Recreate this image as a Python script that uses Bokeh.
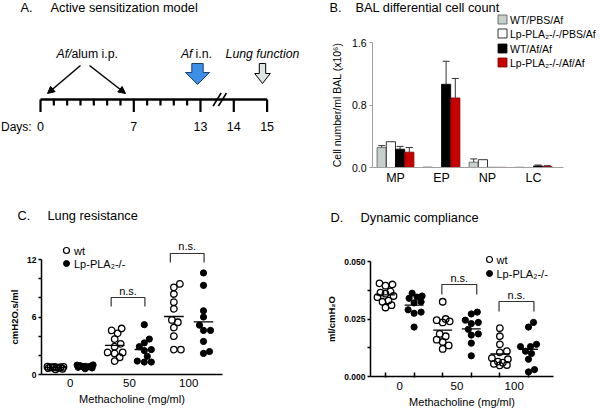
import math
from bokeh.plotting import figure
from bokeh.layouts import column, row
from bokeh.models import (Range1d, FixedTicker, Arrow, NormalHead, Whisker,
                          TeeHead, ColumnDataSource, NumeralTickFormatter)
from bokeh.core.properties import value
from bokeh.embed import file_html
from bokeh.resources import INLINE

FONT = "Liberation Sans"
F = value(FONT)

# ---------------- data ----------------
# Panel A: sensitization schedule (schematic, not to scale)
tick_days = ["0", "7", "13", "14", "15"]
tick_slots = [0, 7, 12, 14.5, 17]
minor_slots = [1, 2, 3, 4, 5, 6, 8, 9, 10, 11]

# Panel B: BAL differential cell count (x10^6 / ml)
cell_types = ["MP", "EP", "NP", "LC"]
group_labels = ["WT/PBS/Af", "Lp-PLA\u2082-/-/PBS/Af", "WT/Af/Af", "Lp-PLA\u2082-/-/Af/Af"]
wt_pbs = [0.255, 0.005, 0.068, 0.003]
ko_pbs = [0.330, 0.000, 0.100, 0.000]
wt_af = [0.235, 1.065, 0.002, 0.020]
ko_af = [0.196, 0.890, 0.002, 0.015]
wt_pbs_err = [0.025, 0.0, 0.042, 0.0]
ko_pbs_err = [0.0, 0.0, 0.0, 0.0]
wt_af_err = [0.035, 0.295, 0.0, 0.012]
ko_af_err = [0.060, 0.250, 0.0, 0.008]

# Panel C: lung resistance (cmH2O.s/ml)
doses = ["0", "50", "100"]
res_wt_0 = [0.82, 0.80, 0.80, 0.78, 0.76, 0.75, 0.73, 0.70, 0.66, 0.60, 0.55]
res_ko_0 = [1.00, 0.98, 0.92, 0.88, 0.85, 0.83, 0.80, 0.75, 0.68, 0.60]
res_wt_50 = [4.8, 4.6, 4.3, 3.7, 3.2, 2.9, 2.3, 2.2, 2.3, 1.8, 1.4]
res_ko_50 = [5.2, 3.7, 3.3, 2.9, 2.6, 2.5, 1.9, 1.4, 1.3, 1.3]
res_wt_100 = [9.45, 9.1, 8.4, 7.55, 6.85, 5.7, 5.45, 4.9, 4.0, 2.6, 2.6]
res_ko_100 = [10.6, 9.3, 6.65, 6.0, 5.15, 4.6, 4.6, 3.45, 2.4, 2.2]

# Panel D: dynamic compliance (ml/cmH2O)
cmp_wt_0 = [0.0405, 0.0395, 0.0400, 0.0370, 0.0365, 0.0360, 0.0350, 0.0345, 0.0330, 0.0325, 0.0310, 0.0300]
cmp_ko_0 = [0.0362, 0.0350, 0.0345, 0.0340, 0.0320, 0.0325, 0.0290, 0.0280, 0.0275, 0.0215]
cmp_wt_50 = [0.0325, 0.0250, 0.0245, 0.0240, 0.0235, 0.0185, 0.0175, 0.0160, 0.0150, 0.0135, 0.0120]
cmp_ko_50 = [0.0280, 0.0272, 0.0245, 0.0235, 0.0230, 0.0205, 0.0185, 0.0180, 0.0145, 0.0090]
cmp_wt_100 = [0.0210, 0.0175, 0.0140, 0.0110, 0.0105, 0.0080, 0.0075, 0.0065, 0.0060, 0.0055, 0.0050, 0.0048]
cmp_ko_100 = [0.0235, 0.0215, 0.0140, 0.0130, 0.0130, 0.0110, 0.0100, 0.0075, 0.0030, 0.0020]


class Map:
    """Page-pixel layout -> data coordinates for one panel (frame = whole figure)."""
    def __init__(self, left, top, w, h, xpage0, xval0, ppu_x, ypage0, yval0, ppu_y):
        self.left, self.top, self.w, self.h = left, top, w, h
        self.xp0, self.xv0, self.px = xpage0, xval0, ppu_x
        self.yp0, self.yv0, self.py = ypage0, yval0, ppu_y

    def fx(self, p):
        return self.xv0 + (p - self.xp0) / self.px

    def fy(self, p):
        return self.yv0 + (self.yp0 - p) / self.py

    def ranges(self):
        xr = Range1d(self.fx(self.left), self.fx(self.left + self.w))
        yr = Range1d(self.fy(self.top + self.h), self.fy(self.top))
        return xr, yr


def base_fig(m):
    xr, yr = m.ranges()
    p = figure(width=m.w, height=m.h, x_range=xr, y_range=yr, output_backend="svg",
               toolbar_location=None, min_border=0)
    p.outline_line_color = None
    p.grid.grid_line_color = None
    return p


def texts(p, xs, ys, t, size="12.8px", align="left", baseline="middle", style="normal"):
    p.text(x=xs, y=ys, text=t, text_font=F, text_font_size=size, text_align=align,
           text_baseline=baseline, text_font_style=style)


# ---------------- Panel A ----------------
PX_SLOT = 13.33
pA = figure(width=300, height=196, x_range=Range1d(-40 / PX_SLOT, 260 / PX_SLOT),
            y_range=Range1d(196, 0), output_backend="svg", toolbar_location=None,
            min_border=0, x_axis_location=None, y_axis_location=None)
pA.outline_line_color = None
pA.grid.grid_line_color = None


def sx(page_x):
    return (page_x - 40) / PX_SLOT


texts(pA, [sx(20), sx(50)], [7, 7], ["A.", "Active sensitization model"])
TL_Y = 99
pA.line(x=[tick_slots[0], tick_slots[-1]], y=[TL_Y, TL_Y], line_width=2.4, line_color="black")
pA.segment(x0=tick_slots, y0=[TL_Y] * len(tick_slots), x1=tick_slots,
           y1=[TL_Y + 12.5] * len(tick_slots), line_width=2.2, line_color="black")
pA.segment(x0=minor_slots, y0=[TL_Y] * len(minor_slots), x1=minor_slots,
           y1=[TL_Y + 6] * len(minor_slots), line_width=2.2, line_color="black")
brk = (tick_slots[2] + tick_slots[3]) / 2 + 0.2
for k in (-1, 1):
    xm = brk + k * 0.2
    pA.segment(x0=[xm - 0.3], y0=[TL_Y + 6.5], x1=[xm + 0.3], y1=[TL_Y - 6.5],
               line_width=1.6, line_color="black")
texts(pA, tick_slots, [126] * len(tick_slots), tick_days, size="12.5px", align="center")
texts(pA, [sx(0.5)], [126], ["Days:"], size="12px")
texts(pA, [sx(71)], [53], ["Af/"], size="12.3px", align="right", style="italic")
texts(pA, [sx(71)], [53], ["alum i.p."], size="12.3px")
texts(pA, [sx(192)], [53], ["Af"], size="12.3px", align="right", style="italic")
texts(pA, [sx(195)], [53], ["i.n."], size="12.3px")
texts(pA, [sx(262)], [53], ["Lung function"], size="12.3px", align="center", style="italic")
for (x0, x1) in ((80, 47), (89, 125)):
    pA.add_layout(Arrow(x_start=sx(x0), y_start=65, x_end=sx(x1), y_end=93,
                        line_width=1.5, line_color="black",
                        end=NormalHead(size=7, fill_color="black", line_color="black")))


def block_arrow(xc_px, y0, yh, ytip, shw, hhw):
    xs = [xc_px - shw, xc_px + shw, xc_px + shw, xc_px + hhw, xc_px, xc_px - hhw, xc_px - shw]
    ys = [y0, y0, yh, yh, ytip, yh, yh]
    return [sx(v) for v in xs], ys


bx, by = block_arrow(197, 63, 72, 84, 5.7, 12)
pA.patch(bx, by, fill_color="#3d8ee6", line_color="#1f3f6e", line_width=1)
gx, gy = block_arrow(262, 63, 73, 83, 3.2, 7.8)
pA.patch(gx, gy, fill_color="#dfe5e2", line_color="black", line_width=1)

# ---------------- Panel B ----------------
mB = Map(300, 0, 300, 196, 395, 0.0, 46.0, 167, 0.0, 125 / 1.6)
pB = base_fig(mB)
B_X0 = mB.fx(372)
B_X1 = mB.fx(563)
series = [wt_pbs, ko_pbs, wt_af, ko_af]
errs = [wt_pbs_err, ko_pbs_err, wt_af_err, ko_af_err]
fills = ["#c6cfcb", "white", "black", "#c80000"]
lines = ["#555555", "black", "black", "#7a0000"]
offsets = [-0.3, -0.1, 0.1, 0.3]
for vals, er, fc, lc, off in zip(series, errs, fills, lines, offsets):
    xs = [i + off for i in range(len(cell_types))]
    pB.vbar(x=xs, top=vals, width=0.2, fill_color=fc, line_color=lc, line_width=0.8)
    keep = [i for i in range(len(vals)) if er[i] > 0]
    if keep:
        src = ColumnDataSource(dict(x=[xs[i] for i in keep], lo=[vals[i] for i in keep],
                                    hi=[vals[i] + er[i] for i in keep]))
        pB.add_layout(Whisker(source=src, base="x", lower="lo", upper="hi",
                              line_color="#333333", line_width=1, lower_head=None,
                              upper_head=TeeHead(size=7, line_color="#333333", line_width=1)))
pB.xaxis.fixed_location = 0
pB.yaxis.fixed_location = B_X0
pB.xaxis.bounds = (B_X0, B_X1)
pB.yaxis.bounds = (0, 1.6)
pB.xaxis.ticker = FixedTicker(ticks=list(range(len(cell_types))), minor_ticks=[])
pB.xaxis.major_label_overrides = {i: c for i, c in enumerate(cell_types)}
pB.xaxis.major_tick_in = 0
pB.xaxis.major_tick_out = 0
pB.xaxis.major_label_text_font_size = "12.5px"
pB.xaxis.major_label_standoff = 3
pB.yaxis.ticker = FixedTicker(ticks=[0, 0.8, 1.6], minor_ticks=[])
pB.yaxis.formatter = NumeralTickFormatter(format="0.0")
pB.yaxis.major_tick_in = 0
pB.yaxis.major_tick_out = 3
pB.yaxis.major_label_text_font_size = "10.5px"
pB.yaxis.major_label_standoff = 3
pB.yaxis.axis_label = "Cell number/ml BAL (x10\u2076)"
pB.yaxis.axis_label_text_font_size = "10.5px"
pB.yaxis.axis_label_text_font_style = "normal"
pB.yaxis.axis_label_standoff = 6
for ax in (pB.xaxis, pB.yaxis):
    ax.axis_line_color = "#a0a0a0"
    ax.major_tick_line_color = "#a0a0a0"
    ax.major_label_text_font = FONT
    ax.axis_label_text_font = FONT
    ax.major_label_text_color = "black"
    ax.axis_label_text_color = "black"
leg_y = [mB.fy(py) for py in (19, 33, 48, 62)]
pB.scatter(x=[mB.fx(502)] * 4, y=leg_y, marker="square", size=9,
           fill_color=fills, line_color=lines, line_width=0.8)
texts(pB, [mB.fx(509.5)] * 4, leg_y, group_labels, size="10.5px")
texts(pB, [mB.fx(329), mB.fx(355)], [mB.fy(7)] * 2, ["B.", "BAL differential cell count"])


# ---------------- Panels C & D ----------------
def swarm(vals, ppu_y, ppu_x, diam=6.2, maxoff=8.0, step=1.0):
    order = sorted(range(len(vals)), key=lambda i: vals[i])
    cands = [0.0]
    k = 1
    while k * step <= maxoff + 1e-9:
        cands += [k * step, -k * step]
        k += 1
    placed = []
    offs = [0.0] * len(vals)
    for i in order:
        yi = vals[i] * ppu_y
        best, bestd = 0.0, -1.0
        for c in cands:
            md = min((math.hypot(c - px, yi - py) for px, py in placed), default=1e9)
            if md >= diam:
                best = c
                break
            if md > bestd:
                bestd, best = md, c
        placed.append((best, yi))
        offs[i] = best / ppu_x
    return offs


def dot_panel(m, groups, axis_x_page, axis_end_page, title_pages, title, title_y,
              yticks, yminor, ylabel, yfmt, xminor, brackets, pad, legend_pages):
    p = base_fig(m)
    x0, x1 = m.fx(axis_x_page), m.fx(axis_end_page)
    for col, vals in enumerate(groups, start=1):
        offs = swarm(vals, m.py, m.px)
        xs = [col + o for o in offs]
        if col % 2 == 1:
            p.scatter(x=xs, y=vals, size=6.5, fill_color=None, line_color="black", line_width=1.3)
        else:
            p.scatter(x=xs, y=vals, size=6.2, fill_color="black", line_color="black")
        mval = sum(vals) / len(vals)
        p.segment(x0=[col - 0.33], y0=[mval], x1=[col + 0.33], y1=[mval],
                  line_width=1.3, line_color="black")
    for (a, b, top_pg, leg_pg, txt_pg) in brackets:
        xa, xb = a + pad[0], b + pad[1]
        top, leg = m.fy(top_pg), m.fy(leg_pg)
        p.multi_line(xs=[[xa, xa, xb, xb]], ys=[[leg, top, top, leg]],
                     line_width=1.2, line_color="#333333")
        texts(p, [(xa + xb) / 2], [m.fy(txt_pg)], ["n.s."], size="11px", align="center")
    lx, ltx, ly_wt, ly_ko = legend_pages
    p.scatter(x=[m.fx(lx)], y=[m.fy(ly_wt)], size=6, fill_color=None,
              line_color="black", line_width=1.2)
    p.scatter(x=[m.fx(lx)], y=[m.fy(ly_ko)], size=6, fill_color="black", line_color="black")
    texts(p, [m.fx(ltx)] * 2, [m.fy(ly_wt), m.fy(ly_ko)], ["wt", "Lp-PLA\u2082-/-"], size="11px")
    texts(p, [m.fx(title_pages[0]), m.fx(title_pages[1])], [m.fy(title_y)] * 2, list(title))
    # axes
    p.yaxis.fixed_location = x0
    p.xaxis.fixed_location = 0
    p.xaxis.bounds = (x0, x1)
    p.yaxis.bounds = (yticks[0], yticks[-1])
    p.yaxis.ticker = FixedTicker(ticks=yticks, minor_ticks=yminor)
    if yfmt:
        p.yaxis.formatter = NumeralTickFormatter(format=yfmt)
    p.yaxis.major_tick_in = 0
    p.yaxis.minor_tick_in = 0
    p.yaxis.major_tick_out = 3
    p.yaxis.minor_tick_out = 3
    p.yaxis.major_label_standoff = 2
    p.yaxis.major_label_text_font_size = "8.5px"
    p.yaxis.major_label_text_font_style = "bold"
    p.yaxis.axis_label = ylabel
    p.yaxis.axis_label_text_font_size = "9.5px"
    p.yaxis.axis_label_text_font_style = "bold"
    p.yaxis.axis_label_standoff = 4
    p.xaxis.ticker = FixedTicker(ticks=[1.5, 3.5, 5.5], minor_ticks=xminor)
    p.xaxis.major_label_overrides = {1.5: doses[0], 3.5: doses[1], 5.5: doses[2]}
    p.xaxis.major_tick_in = 0
    p.xaxis.major_tick_out = 0
    p.xaxis.minor_tick_in = 4
    p.xaxis.minor_tick_out = 1
    p.xaxis.major_label_standoff = 4
    p.xaxis.major_label_text_font_size = "11.5px"
    p.xaxis.axis_label = "Methacholine (mg/ml)"
    p.xaxis.axis_label_text_font_size = "11px"
    p.xaxis.axis_label_text_font_style = "normal"
    p.xaxis.axis_label_standoff = 3
    for ax in (p.xaxis, p.yaxis):
        ax.axis_line_width = 1.5
        ax.major_tick_line_width = 1.5
        ax.minor_tick_line_width = 1.5
        ax.axis_line_color = "black"
        ax.major_tick_line_color = "black"
        ax.minor_tick_line_color = "black"
        ax.major_label_text_font = FONT
        ax.axis_label_text_font = FONT
        ax.major_label_text_color = "black"
        ax.axis_label_text_color = "black"
    return p


mC = Map(0, 196, 300, 213, 55, 1.0, 29.6, 374, 0.0, 115 / 12)
pC = dot_panel(mC, [res_wt_0, res_ko_0, res_wt_50, res_ko_50, res_wt_100, res_ko_100],
               41, 222, (17, 47), ("C.", "Lung resistance"), 215,
               [0, 6, 12], [2, 4, 8, 10], "cmH2O.s/ml", None, [],
               [(3, 4, 297, 306, 290), (5, 6, 253, 262, 245)], (-0.12, 0.02),
               (66, 73.5, 250, 263))

mD = Map(300, 196, 300, 213, 385, 1.0, 28.6, 376, 0.0, 115 / 0.05)
pD = dot_panel(mD, [cmp_wt_0, cmp_ko_0, cmp_wt_50, cmp_ko_50, cmp_wt_100, cmp_ko_100],
               370, 553, (330, 360), ("D.", "Dynamic compliance"), 217,
               [0, 0.025, 0.05], [0.0125, 0.0375], "ml/cmH\u2082O", "0.000", [1, 2, 3, 4, 5, 6],
               [(3, 4, 284, 294, 277), (5, 6, 301, 311, 294)], (-0.03, 0.19),
               (489, 496, 259, 273))

layout = column(row(pA, pB), row(pC, pD))
open("out.html", "w").write(file_html(layout, INLINE))
